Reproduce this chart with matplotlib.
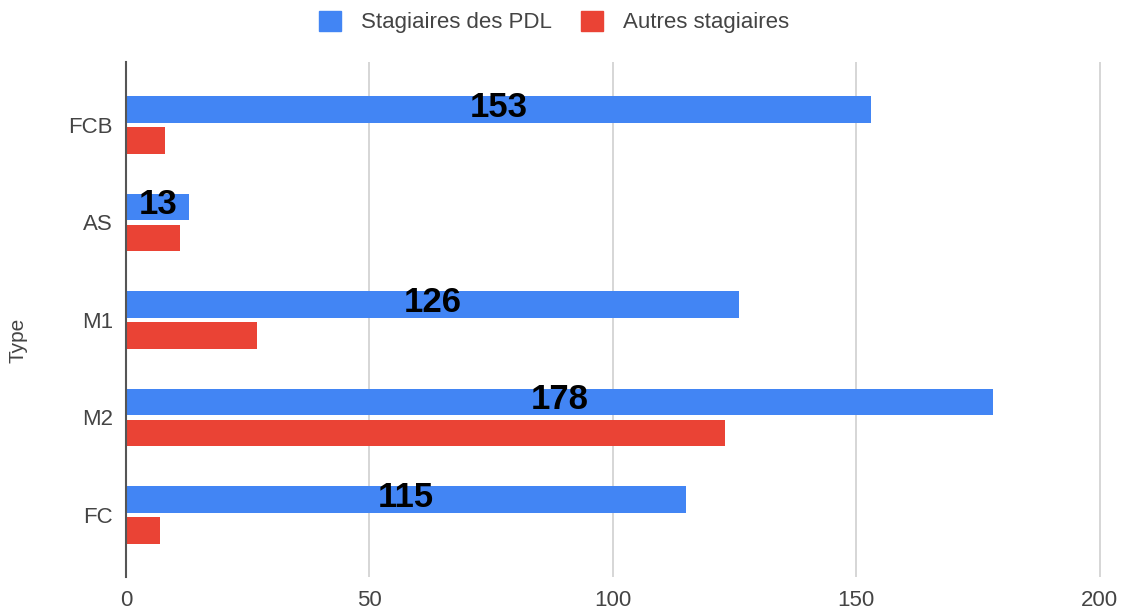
import numpy as np
import matplotlib.pyplot as plt
from matplotlib.patches import Patch

plt.rcParams["font.family"] = ["Liberation Sans", "DejaVu Sans"]

categories = ["FCB", "AS", "M1", "M2", "FC"]
pdl = [153, 13, 126, 178, 115]
autres = [8, 11, 27, 123, 7]
x_ticks = [0, 50, 100, 150, 200]

blue = "#4285F4"
red = "#EA4335"
txt = "#444444"

fig = plt.figure(figsize=(11.29, 6.12), dpi=100)
ax = fig.add_axes([126 / 1129, 35 / 612, 1 - 126 / 1129, 515 / 612])

y = np.arange(len(categories))
h = 0.27
off = 0.16
ax.barh(y - off, pdl, height=h, color=blue, zorder=3)
ax.barh(y + off, autres, height=h, color=red, zorder=3)

for yi, v in zip(y, pdl):
    ax.text(v / 2, yi - off - 0.02, str(v), ha="center", va="center",
            fontsize=25, fontweight="bold", color="black", zorder=4)

ax.set_xlim(0, 206)
ax.set_ylim(4.636, -0.646)
ax.set_yticks(y)
ax.set_yticklabels(categories, fontsize=16, color=txt)
ax.set_xticks(x_ticks)
ax.set_xticklabels([str(t) for t in x_ticks], fontsize=16, color=txt)
ax.tick_params(length=0)
ax.tick_params(axis="y", pad=9.5)
ax.tick_params(axis="x", pad=9)
ax.grid(axis="x", color="#d0d0d0", linewidth=1.2, zorder=0)
for s in ["top", "right", "bottom"]:
    ax.spines[s].set_visible(False)
ax.spines["left"].set_color("#555555")
ax.spines["left"].set_linewidth(1.5)
ax.spines["left"].set_zorder(5)

fig.text(18 / 1129, 1 - 340 / 612, "Type", rotation=90, ha="center",
         va="center", fontsize=15, color=txt)

handles = [Patch(color=blue, label="Stagiaires des PDL"),
           Patch(color=red, label="Autres stagiaires")]
fig.legend(handles=handles, loc="center", bbox_to_anchor=(0.491, 1 - 22 / 612),
           ncol=2, frameon=False, fontsize=16, labelcolor=txt,
           handlelength=1.0, handleheight=1.0, columnspacing=1.3,
           handletextpad=0.9)

fig.savefig("out.png", dpi=100)
